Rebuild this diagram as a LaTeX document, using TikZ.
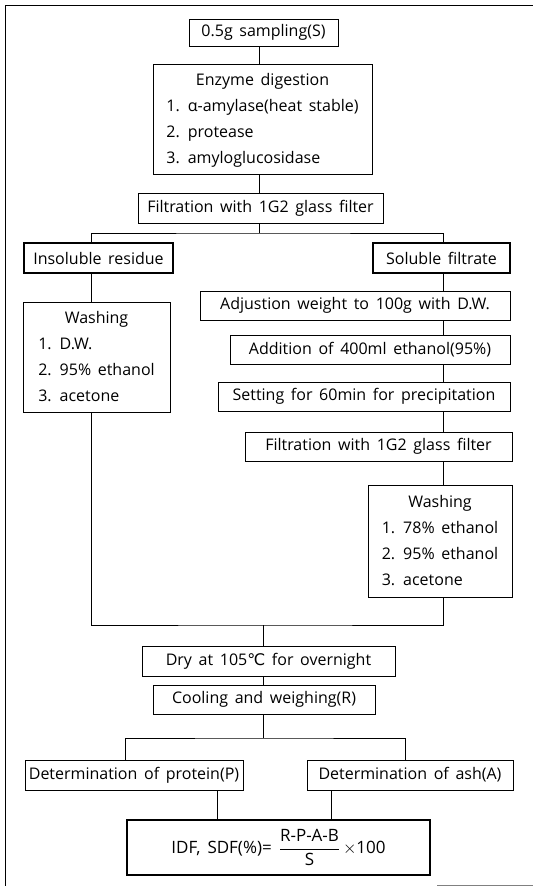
\documentclass[tikz,border=0pt]{standalone}
\usepackage{fontspec}
\setmainfont{Open Sans}[WordSpace=1.6]
\newfontfamily\degfont{DejaVu Sans}
\usetikzlibrary{positioning}

\begin{document}
\begin{tikzpicture}[x=1pt, y=-1pt, inner sep=0pt,
    font=\fontsize{16}{26}\selectfont,
    box/.style={draw=black, line width=0.6pt, rectangle, minimum height=29pt},
    boldbox/.style={box, line width=2pt},
    listbox/.style={box, minimum height=110pt}]
  \useasboundingbox (0,0) rectangle (533,886);

  % outer frame
  \draw[line width=0.8pt] (5,886) -- (5,5) -- (533,5);
  \draw[gray, line width=0.5pt] (437,885) -- (533,885);

  \node[box, minimum width=149pt, minimum height=27pt] (samp) at (263.5,32.5) {0.5g sampling(S)};
  \node[listbox, minimum width=219pt] (enz) at (262.5,119)
    {\begin{tabular}{@{}l@{}}\multicolumn{1}{c}{Enzyme digestion}\\1. α-amylase(heat stable)\\2. protease\\3. amyloglucosidase\end{tabular}};
  \node[box, minimum width=245pt, minimum height=30pt] (filt1) at (260.5,208) {Filtration with 1G2 glass filter};

  \node[boldbox, minimum width=149pt, minimum height=30pt] (insol) at (98.5,258) {Insoluble residue};
  \node[boldbox, minimum width=137pt, minimum height=30pt] (sol) at (441.5,258) {Soluble filtrate};

  \node[listbox, minimum width=147pt] (washL) at (96.5,357)
    {\begin{tabular}{@{}l@{}}\multicolumn{1}{c}{Washing}\\1. D.W.\\2. 95\% ethanol\\3. acetone\end{tabular}};

  \node[box, minimum width=310pt] (adj) at (355,305.5) {Adjustion weight to 100g with D.W.};
  \node[box, minimum width=280pt] (add) at (370,349.5) {Addition of 400ml ethanol(95\%)};
  \node[box, minimum width=292pt] (set) at (364,396.5) {Setting for 60min for precipitation};
  \node[box, minimum width=267pt] (filt2) at (378.5,446.5) {Filtration with 1G2 glass filter};
  \node[listbox, minimum width=144pt, minimum height=112pt] (washR) at (440,541)
    {\begin{tabular}{@{}l@{}}\multicolumn{1}{c}{Washing}\\1. 78\% ethanol\\2. 95\% ethanol\\3. acetone\end{tabular}};

  \node[box, minimum width=253pt, minimum height=30pt] (dry) at (268.5,661) {Dry at 105{\degfont ℃} for overnight};
  \node[box, minimum width=222pt] (cool) at (264,699.5) {Cooling and weighing(R)};

  \node[box, minimum width=218pt, minimum height=30pt] (prot) at (134,775) {Determination of protein(P)};
  \node[box, minimum width=206pt, minimum height=30pt] (ash) at (410,775) {Determination of ash(A)};

  \node[boldbox, minimum width=303pt, minimum height=55pt, font=\fontsize{17}{26}\selectfont] (final) at (278.5,847.5)
    {IDF, SDF(\%)= $\displaystyle\frac{\mbox{R-P-A-B}}{\mbox{S}}$\,$\times$100};

  % branch points and column lines
  \coordinate (split1) at (259,233);
  \coordinate (split2) at (263,625);
  \coordinate (split3) at (263,738);
  \coordinate (lcol) at (91,0);
  \coordinate (rcol) at (443,0);
  \coordinate (pcol) at (217,0);
  \coordinate (acol) at (331,0);

  \draw[line width=0.6pt] (samp.south -| split1) -- (split1 |- enz.north);
  \draw[line width=0.6pt] (enz.south -| split1) -- (split1 |- filt1.north);
  \draw[line width=0.6pt] (filt1.south -| split1) -- (split1);
  \draw[line width=0.6pt] (lcol |- insol.north) |- (split1) -| (rcol |- sol.north);

  \draw[line width=0.6pt] (lcol |- insol.south) -- (lcol |- washL.north);
  \draw[line width=0.6pt] (lcol |- washL.south) |- (split2) -| (rcol |- washR.south);

  \draw[line width=0.6pt] (rcol |- sol.south) -- (rcol |- adj.north);
  \draw[line width=0.6pt] (rcol |- adj.south) -- (rcol |- add.north);
  \draw[line width=0.6pt] (rcol |- add.south) -- (rcol |- set.north);
  \draw[line width=0.6pt] (rcol |- set.south) -- (rcol |- filt2.north);
  \draw[line width=0.6pt] (rcol |- filt2.south) -- (rcol |- washR.north);

  \draw[line width=0.6pt] (split2) -- (split2 |- dry.north);
  \draw[line width=0.6pt] (dry.south -| split2) -- (split2 |- cool.north);
  \draw[line width=0.6pt] (cool.south -| split3) -- (split3);
  \draw[line width=0.6pt] (prot.north -| 125,0) |- (split3) -| (ash.north -| 405,0);

  \draw[line width=0.6pt] (pcol |- prot.south) -- (pcol |- final.north);
  \draw[line width=0.6pt] (acol |- ash.south) -- (acol |- final.north);
\end{tikzpicture}
\end{document}
